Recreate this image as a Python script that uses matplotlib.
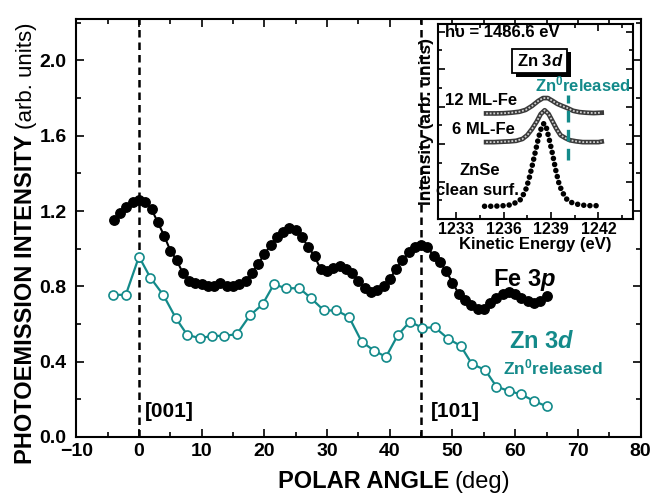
import matplotlib
matplotlib.use('Agg')
import matplotlib.pyplot as plt
import matplotlib.patheffects as pe
from matplotlib.ticker import MultipleLocator, FormatStrFormatter

plt.rcParams['font.family'] = 'Liberation Sans'
plt.rcParams['mathtext.fontset'] = 'custom'
plt.rcParams['mathtext.rm'] = 'Liberation Sans:bold'
plt.rcParams['mathtext.bf'] = 'Liberation Sans:bold'
plt.rcParams['mathtext.it'] = 'Liberation Sans:italic:bold'

TEAL = '#138a8a'

# Fe 3p polar scan (filled black)
fe_angle = list(range(-4, 66))
fe_int = [1.15, 1.19, 1.22, 1.25, 1.26, 1.25, 1.21, 1.14, 1.07, 0.99,
          0.94, 0.87, 0.83, 0.82, 0.81, 0.80, 0.80, 0.82, 0.80, 0.80,
          0.81, 0.83, 0.87, 0.92, 0.97, 1.02, 1.06, 1.09, 1.11, 1.10,
          1.06, 1.01, 0.96, 0.89, 0.88, 0.90, 0.91, 0.89, 0.87, 0.83,
          0.79, 0.77, 0.78, 0.80, 0.84, 0.89, 0.94, 0.98, 1.01, 1.02,
          1.01, 0.96, 0.93, 0.88, 0.82, 0.76, 0.73, 0.70, 0.68, 0.68,
          0.71, 0.74, 0.76, 0.77, 0.76, 0.74, 0.72, 0.71, 0.72, 0.75]

# Zn 3d (Zn0 released) polar scan (open teal)
zn_angle = [-4.2, -2.1, 0.0, 1.8, 3.9, 5.9, 7.7, 9.7, 11.7, 13.6, 15.6, 17.7,
            19.7, 21.5, 23.5, 25.6, 27.4, 29.5, 31.5, 33.5, 35.5, 37.5, 39.4,
            41.3, 43.2, 45.2, 47.2, 49.3, 51.3, 53.1, 55.2, 57.0, 59.0, 61.0,
            63.0, 65.0]
zn_int = [0.755, 0.755, 0.958, 0.847, 0.753, 0.63, 0.542, 0.525, 0.537, 0.537,
          0.546, 0.646, 0.704, 0.81, 0.79, 0.79, 0.738, 0.672, 0.672, 0.637,
          0.507, 0.458, 0.426, 0.542, 0.612, 0.58, 0.582, 0.522, 0.484, 0.388,
          0.356, 0.268, 0.244, 0.226, 0.191, 0.163]

# inset: Zn 3d spectra
clean_ke = [1234.8, 1235.2, 1235.6, 1236.0, 1236.4, 1236.8, 1237.1, 1237.4, 1237.6,
            1237.8, 1238.0, 1238.2, 1238.4, 1238.55, 1238.7, 1238.9, 1239.1, 1239.3,
            1239.5, 1239.7, 1240.0, 1240.3, 1240.7, 1241.1, 1241.5, 1241.9, 1242.2]
clean_int = [0.068, 0.068, 0.069, 0.071, 0.075, 0.088, 0.105, 0.155, 0.21,
             0.28, 0.355, 0.43, 0.49, 0.51, 0.49, 0.42, 0.345, 0.26,
             0.19, 0.145, 0.105, 0.088, 0.078, 0.073, 0.071, 0.071, 0.075]
ml6_ke = [1234.9, 1235.4, 1235.9, 1236.4, 1236.8, 1237.2, 1237.5, 1237.8, 1238.1,
          1238.35, 1238.6, 1238.85, 1239.1, 1239.35, 1239.6, 1239.9, 1240.2, 1240.6,
          1241.0, 1241.5, 1242.0, 1242.2]
ml6_int = [0.41, 0.41, 0.412, 0.414, 0.417, 0.427, 0.447, 0.48, 0.52,
           0.56, 0.58, 0.56, 0.52, 0.48, 0.447, 0.432, 0.42, 0.414,
           0.41, 0.41, 0.41, 0.413]
ml12_ke = [1234.9, 1235.5, 1236.0, 1236.5, 1237.0, 1237.4, 1237.8, 1238.2, 1238.5,
           1238.8, 1239.1, 1239.4, 1239.7, 1240.0, 1240.4, 1240.8, 1241.2, 1241.7,
           1242.2]
ml12_int = [0.563, 0.563, 0.564, 0.567, 0.572, 0.582, 0.603, 0.63, 0.645,
            0.645, 0.63, 0.614, 0.603, 0.593, 0.577, 0.57, 0.567, 0.565, 0.567]


fig = plt.figure(figsize=(6.52, 4.96), dpi=100)
ax = fig.add_axes([0.117, 0.119, 0.8655, 0.8427])

ax.axvline(0, color='black', lw=1.8, ls=(0, (3, 2)), zorder=1)
ax.axvline(45, color='black', lw=1.8, ls=(0, (3, 2)), zorder=1)

ax.plot(fe_angle, fe_int, '-o', color='black', lw=1.5, ms=6.8, zorder=3)
ax.plot(zn_angle, zn_int, '-o', color=TEAL, lw=1.6, ms=6.5, mfc='white',
        mec=TEAL, mew=1.2, zorder=3)

ax.set_xlim(-10, 80)
ax.set_ylim(0, 2.22)
ax.xaxis.set_major_locator(MultipleLocator(10))
ax.xaxis.set_minor_locator(MultipleLocator(5))
ax.yaxis.set_major_locator(MultipleLocator(0.4))
ax.yaxis.set_minor_locator(MultipleLocator(0.2))
ax.yaxis.set_major_formatter(FormatStrFormatter('%.1f'))
ax.tick_params(which='both', direction='in', top=True, right=True, width=1.2)
ax.tick_params(which='major', length=6, labelsize=14)
ax.tick_params(axis='x', which='major', pad=4.5)
ax.tick_params(axis='y', which='major', pad=7)
ax.tick_params(which='minor', length=3.5)
for lab in ax.get_xticklabels() + ax.get_yticklabels():
    lab.set_fontweight('bold')
for sp in ax.spines.values():
    sp.set_linewidth(1.5)

ax.text(1.0, 0.105, '[001]', fontsize=15, fontweight='bold', va='baseline')
ax.text(46.5, 0.105, '[101]', fontsize=15, fontweight='bold', va='baseline')
ax.text(56.5, 0.80, r'Fe $\mathit{3p}$', fontsize=17, fontweight='bold',
        va='baseline')
ax.text(59.0, 0.474, r'Zn $\mathit{3d}$', fontsize=17, fontweight='bold',
        color=TEAL, va='baseline')
ax.text(58.0, 0.37, r'Zn$^{0}$released', fontsize=12.5, fontweight='bold',
        color=TEAL, va='center')

# axis titles (bold part + plain part)
fig.text(449 / 652, 0.016, 'POLAR ANGLE', fontsize=17, fontweight='bold',
         ha='right', va='baseline')
fig.text(454 / 652, 0.016, '(deg)', fontsize=17, ha='left', va='baseline')
fig.text(32 / 652, 1 - 134 / 496, 'PHOTOEMISSION INTENSITY', fontsize=17,
         fontweight='bold', rotation=90, rotation_mode='anchor',
         ha='right', va='baseline')
fig.text(32 / 652, 1 - 129 / 496, '(arb. units)', fontsize=16,
         rotation=90, rotation_mode='anchor', ha='left', va='baseline')

# inset
ins = fig.add_axes([438 / 652, 1 - 219 / 496, 195 / 652, 195 / 496])
ins.plot(clean_ke, clean_int, color='black', lw=4.0, ls=(0, (0.01, 1.1)),
         dash_capstyle='round', solid_capstyle='round')
for ke, it in [(ml6_ke, ml6_int), (ml12_ke, ml12_int)]:
    ins.plot(ke, it, color='#3a3a3a', lw=3.4)
    ins.plot(ke, it, color='#d0d0d0', lw=1.3, ls=(0, (1, 1)))
ins.plot([1240.1, 1240.1], [0.315, 0.66], color=TEAL, lw=2.4,
         ls=(0, (3.5, 2.2)))

ins.set_xlim(1231.86, 1244.18)
ins.set_ylim(0, 1.04)
ins.xaxis.set_major_locator(MultipleLocator(3))
ins.xaxis.set_minor_locator(MultipleLocator(1.5))
ins.yaxis.set_major_locator(MultipleLocator(0.2))
ins.yaxis.set_minor_locator(MultipleLocator(0.1))
ins.tick_params(which='both', direction='in', top=True, right=True, width=1.2,
                labelleft=False)
ins.tick_params(which='major', length=5, labelsize=11.5, pad=2.5)
ins.tick_params(which='minor', length=3)
for lab in ins.get_xticklabels():
    lab.set_fontweight('bold')
for sp in ins.spines.values():
    sp.set_linewidth(1.5)
ins.set_xlabel('Kinetic Energy (eV)', fontsize=12, fontweight='bold', labelpad=0)
ins.set_ylabel('Intensity (arb. units)', fontsize=12.5, fontweight='bold',
               labelpad=3)

ins.text(1232.3, 0.997, 'h\u03c5 = 1486.6 eV', fontsize=12, fontweight='bold',
         va='center', ha='left')
box_txt = ins.text(1238.3, 0.843, r'Zn $\mathit{3d}$', fontsize=12,
                   fontweight='bold', ha='center', va='center',
                   bbox=dict(boxstyle='square,pad=0.25', fc='white',
                             ec='black', lw=1.3))
box_txt.get_bbox_patch().set_path_effects(
    [pe.SimplePatchShadow(offset=(2.5, -2.5), shadow_rgbFace='black', alpha=1.0),
     pe.Normal()])
ins.text(1238.0, 0.715, r'Zn$^{0}$released', fontsize=12, fontweight='bold',
         color=TEAL, va='center', ha='left')
ins.text(1232.3, 0.63, '12 ML-Fe', fontsize=12, fontweight='bold', va='center')
ins.text(1232.75, 0.48, '6 ML-Fe', fontsize=12, fontweight='bold', va='center')
ins.text(1234.5, 0.26, 'ZnSe', fontsize=12, fontweight='bold', va='center',
         ha='center')
ins.text(1234.35, 0.15, 'clean surf.', fontsize=12, fontweight='bold',
         va='center', ha='center')

fig.savefig('out.png', dpi=100)
